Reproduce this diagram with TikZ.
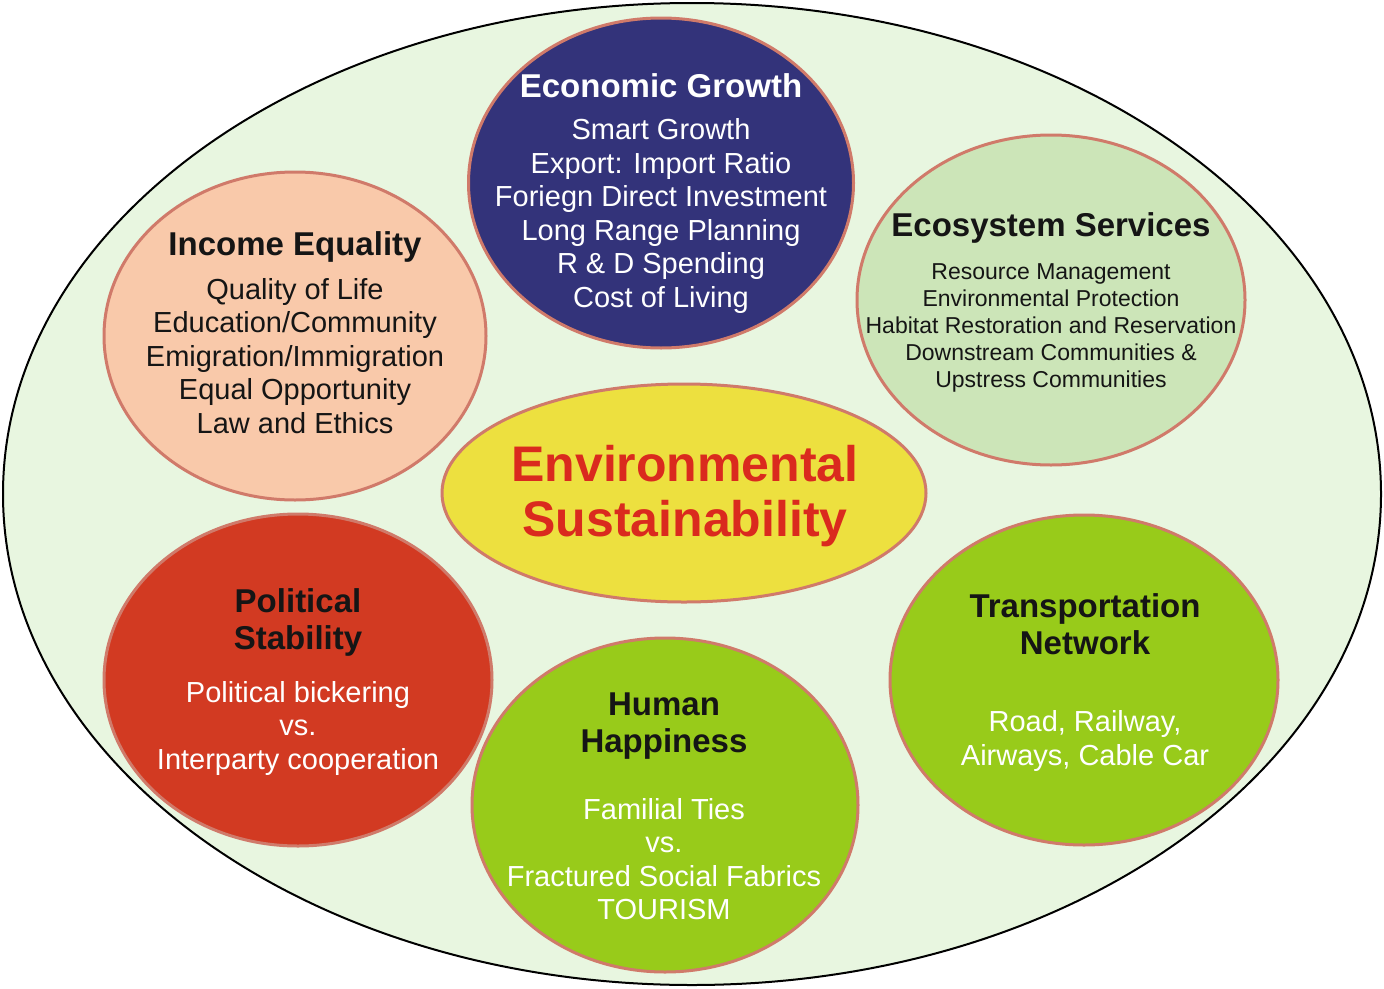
\documentclass[tikz,border=0pt]{standalone}
\usepackage{fontspec}
\setmainfont{Liberation Sans}
\usetikzlibrary{shapes.geometric}
\definecolor{bgc}{HTML}{E8F6E0}
\definecolor{bord}{HTML}{D07A6A}
\definecolor{navy}{HTML}{33337A}
\definecolor{peach}{HTML}{F9C9AA}
\definecolor{lgreen}{HTML}{CCE5B8}
\definecolor{yel}{HTML}{EDE03F}
\definecolor{redc}{HTML}{D23A22}
\definecolor{grn}{HTML}{98CB1A}
\definecolor{esred}{HTML}{DA2A1E}
\definecolor{dark}{HTML}{151515}
\tikzset{
  bub/.style={ellipse, draw=bord, line width=3pt, inner sep=0pt, outer sep=0pt},
  ttl/.style={align=center, font=\fontsize{33}{37}\selectfont\bfseries},
  body/.style={align=center, font=\fontsize{29}{33.5}\selectfont},
  small/.style={align=center, font=\fontsize{23}{27.2}\selectfont},
}
\begin{document}
\begin{tikzpicture}[x=1pt,y=-1pt]
\useasboundingbox (0,0) rectangle (1384,988);
\node[ellipse, draw=black, line width=2pt, fill=bgc, minimum width=1378pt, minimum height=982pt, inner sep=0pt] (outer) at (692,494) {};
% bubbles
\node[bub, fill=navy, minimum width=385pt, minimum height=330pt] (eco) at (661,183) {};
\node[bub, fill=peach, minimum width=382pt, minimum height=328pt] (inc) at (295,336) {};
\node[bub, fill=lgreen, minimum width=388pt, minimum height=330pt] (ecs) at (1051,300) {};
\node[bub, fill=yel, minimum width=484pt, minimum height=218pt] (env) at (684,493) {};
\node[bub, fill=redc, minimum width=388pt, minimum height=332pt] (pol) at (298,680) {};
\node[bub, fill=grn, minimum width=386pt, minimum height=334pt] (hum) at (665,805) {};
\node[bub, fill=grn, minimum width=388pt, minimum height=330pt] (tra) at (1084,680) {};
% texts
\node[ttl, text=white] (ecoT) at (661,86) {Economic Growth};
\node[body, text=white] (ecoB) at (661,216) {Smart Growth\\Export: Import Ratio\\Foriegn Direct Investment\\Long Range Planning\\R \& D Spending\\Cost of Living};
\node[ttl, text=dark] (incT) at (295,247) {Income Equality};
\node[body, text=dark] (incB) at (295,356) {Quality of Life\\Education/Community\\Emigration/Immigration\\Equal Opportunity\\Law and Ethics};
\node[ttl, text=dark] (ecsT) at (1051,228) {Ecosystem Services};
\node[small, text=dark] (ecsB) at (1051,328) {Resource Management\\Environmental Protection\\Habitat Restoration and Reservation\\Downstream Communities \&\\Upstress Communities};
\node[align=center, text=esred, font=\fontsize{50}{55}\selectfont\bfseries] (envT) at (685,496) {Environmental\\Sustainability};
\node[ttl, text=dark] (polT) at (298,622) {Political\\Stability};
\node[body, text=white] (polB) at (298,728) {Political bickering\\vs.\\Interparty cooperation};
\node[ttl, text=dark] (humT) at (664,726) {Human\\Happiness};
\node[body, text=white] (humB) at (664,859) {Familial Ties\\vs.\\Fractured Social Fabrics\\TOURISM};
\node[ttl, text=dark] (traT) at (1085,624) {Transportation\\Network};
\node[body, text=white] (traB) at (1085,741) {Road, Railway,\\Airways, Cable Car};
\end{tikzpicture}
\end{document}
